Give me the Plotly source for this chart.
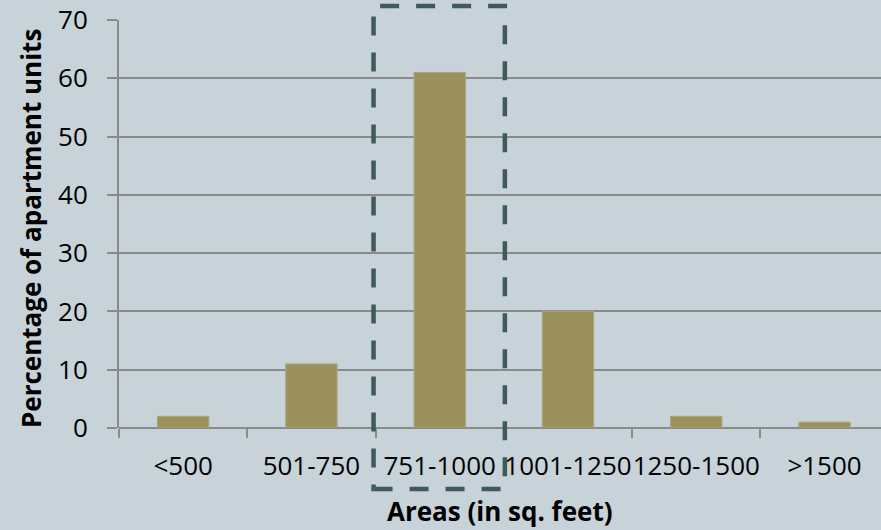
import plotly.graph_objects as go

# Share of apartment units by floor area band
areas = ["<500", "501-750", "751-1000", "1001-1250", "1250-1500", ">1500"]
percent = [2, 11, 61, 20, 2, 1]
y_ticks = [0, 10, 20, 30, 40, 50, 60, 70]

W, H = 881, 530
M_L, M_R, M_T, M_B = 119, 0, 20, 102
X_RANGE = [-0.5, 5.44]
Y_RANGE = [0, 70]

BG = "#c7d2d9"
BAR = "#9a915f"
GRID = "#8a8a8a"
HILITE = "#3e5a5c"
FONT = "Open Sans"
FS = 26

plot_w = W - M_L - M_R
plot_h = H - M_T - M_B
base_y = M_T + plot_h  # pixel row of the zero line

fig = go.Figure(
    go.Bar(
        x=areas,
        y=percent,
        width=0.4,
        marker=dict(color=BAR, line=dict(color="#a9a577", width=1)),
        hoverinfo="x+y",
    )
)

# Dashed frame around the dominant 751-1000 band, in paper coordinates
idx = areas.index("751-1000")
def x_paper(v):
    return (v - X_RANGE[0]) / (X_RANGE[1] - X_RANGE[0])
x0, x1 = x_paper(idx - 0.5) - 2 / plot_w, x_paper(idx + 0.5) + 1 / plot_w
y_top = 1 + (M_T - 6) / plot_h
y_bot = -(489 - base_y) / plot_h
fig.add_shape(
    type="rect", xref="paper", yref="paper",
    x0=x0, x1=x1, y0=y_bot, y1=y_top,
    line=dict(color=HILITE, width=4.5, dash="19px,17px"),
    fillcolor="rgba(0,0,0,0)", layer="above",
)

# Axis titles
fig.add_annotation(
    text="<b>Areas (in sq. feet)</b>", xref="paper", yref="paper",
    x=0.5, y=-(511 - base_y) / plot_h, xanchor="center", yanchor="middle",
    showarrow=False, font=dict(family=FONT, size=FS, color="#000000"),
)
fig.add_annotation(
    text="<b>Percentage of apartment units</b>", xref="paper", yref="paper",
    x=(31 - M_L) / plot_w, y=(base_y - 229) / plot_h, xanchor="center", yanchor="middle",
    textangle=-90,
    showarrow=False, font=dict(family=FONT, size=FS, color="#000000"),
)

fig.update_layout(
    width=W, height=H,
    margin=dict(l=M_L, r=M_R, t=M_T, b=M_B, pad=0),
    paper_bgcolor=BG, plot_bgcolor=BG,
    showlegend=False,
    bargap=0.6,
    font=dict(family=FONT, size=FS, color="#000000"),
    xaxis=dict(
        type="category",
        range=X_RANGE,
        automargin=False,
        tickangle=0,
        tickson="boundaries",
        ticks="outside", ticklen=9, tickwidth=2, tickcolor=GRID,
        showline=False, showgrid=False, zeroline=False,
        tickfont=dict(family=FONT, size=FS),
        ticklabelstandoff=20,
    ),
    yaxis=dict(
        range=Y_RANGE,
        automargin=False,
        tickvals=y_ticks,
        ticks="outside", ticklen=10, tickwidth=2, tickcolor=GRID,
        showline=True, linecolor=GRID, linewidth=2,
        showgrid=True, gridcolor=GRID, gridwidth=2,
        zeroline=True, zerolinecolor=GRID, zerolinewidth=2,
        tickfont=dict(family=FONT, size=FS),
        ticklabelstandoff=14,
    ),
)

fig.write_html("out.html")
